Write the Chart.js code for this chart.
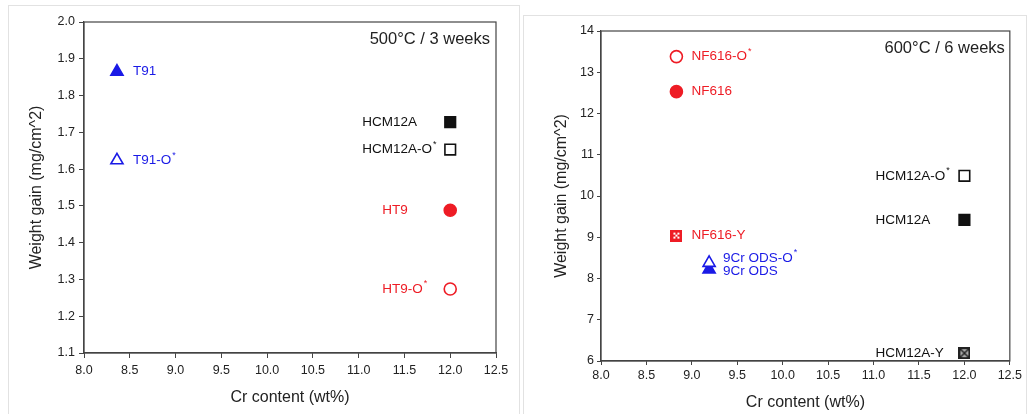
<!DOCTYPE html>
<html>
<head>
<meta charset="utf-8">
<script src="https://cdn.jsdelivr.net/npm/chart.js@4"></script>
<style>
  body { margin: 0; background: #fff; width: 1029px; height: 414px; overflow: hidden; position: relative; }
  .panel { position: absolute; border: 1px solid #e2e2e2; border-bottom: none; background: #fff; }
  #leftPanel { left: 8px; top: 5px; width: 510px; height: 420px; }
  #rightPanel { left: 523px; top: 15px; width: 502px; height: 420px; }
  canvas { position: absolute; }
  #leftChart { left: 8px; top: 5px; }
  #rightChart { left: 524px; top: 16px; }
</style>
</head>
<body>
<div class="panel" id="leftPanel"></div>
<div class="panel" id="rightPanel"></div>
<canvas id="leftChart" width="512" height="409"></canvas>
<canvas id="rightChart" width="501" height="398"></canvas>
<script>
// values
const crTicks = [8.0, 8.5, 9.0, 9.5, 10.0, 10.5, 11.0, 11.5, 12.0, 12.5];

const leftNames = ['T91', 'T91-O*', 'HCM12A', 'HCM12A-O*', 'HT9', 'HT9-O*'];
const leftCr = [8.36, 8.36, 12.0, 12.0, 12.0, 12.0];
const leftGain = [1.865, 1.624, 1.728, 1.653, 1.488, 1.274];
const leftGainTicks = [1.1, 1.2, 1.3, 1.4, 1.5, 1.6, 1.7, 1.8, 1.9, 2.0];

const rightNames = ['NF616-O*', 'NF616', 'NF616-Y', '9Cr ODS-O*', '9Cr ODS', 'HCM12A-O*', 'HCM12A', 'HCM12A-Y'];
const rightCr = [8.83, 8.83, 8.83, 9.19, 9.19, 12.0, 12.0, 12.0];
const rightGain = [13.38, 12.53, 9.04, 8.38, 8.22, 10.49, 9.42, 6.19];
const rightGainTicks = [6, 7, 8, 9, 10, 11, 12, 13, 14];

const BLUE = '#1a1ae6';
const RED = '#ee1c25';
const BLACK = '#111';
const AXIS = '#444';
const FONT = "'Liberation Sans', Arial, sans-serif";

function patternSquare(kind) {
    const c = document.createElement('canvas');
    c.width = 12; c.height = 12;
    const g = c.getContext('2d');
    if (kind === 'dots') {
        g.fillStyle = RED;
        g.fillRect(0, 0, 12, 12);
        g.fillStyle = '#fff';
        [[3, 3], [7, 3], [5, 5], [3, 7], [7, 7]].forEach(p => g.fillRect(p[0], p[1], 2, 2));
    } else {
        g.fillStyle = '#222';
        g.fillRect(0, 0, 12, 12);
        g.fillStyle = '#aaa';
        g.fillRect(2, 2, 8, 8);
        g.strokeStyle = '#222';
        g.lineWidth = 1.5;
        g.beginPath();
        g.moveTo(2, 2); g.lineTo(10, 10);
        g.moveTo(10, 2); g.lineTo(2, 10);
        g.stroke();
    }
    return c;
}

// marker look for each sample
const markerStyles = {
    'T91':        { color: BLUE, style: 'triangle', filled: true, r: 7, dx: 16, dy: 0 },
    'T91-O*':     { color: BLUE, style: 'triangle', filled: false, r: 7, dx: 16, dy: 0 },
    'HCM12A':     { color: BLACK, style: 'rect', filled: true, r: 7.5, dx: -88, dy: 0 },
    'HCM12A-O*':  { color: BLACK, style: 'rect', filled: false, r: 7.5, dx: -88, dy: 0 },
    'HT9':        { color: RED, style: 'circle', filled: true, r: 6, dx: -68, dy: 0 },
    'HT9-O*':     { color: RED, style: 'circle', filled: false, r: 6, dx: -68, dy: 0 },
    'NF616-O*':   { color: RED, style: 'circle', filled: false, r: 6, dx: 15, dy: 0 },
    'NF616':      { color: RED, style: 'circle', filled: true, r: 6, dx: 15, dy: 0 },
    'NF616-Y':    { color: RED, style: patternSquare('dots'), filled: true, r: 6, dx: 15, dy: 0 },
    '9Cr ODS-O*': { color: BLUE, style: 'triangle', filled: false, r: 7, dx: 14, dy: -5 },
    '9Cr ODS':    { color: BLUE, style: 'triangle', filled: true, r: 7, dx: 14, dy: 2 },
    'HCM12A-Y':   { color: BLACK, style: patternSquare('cross'), filled: true, r: 6, dx: -89, dy: 0 }
};

function buildDatasets(names, xs, ys, rightSide) {
    return names.map((name, i) => {
        let st = markerStyles[name];
        if (rightSide && name.startsWith('HCM12A') && name !== 'HCM12A-Y') {
            st = Object.assign({}, st, { dx: -89 });
        }
        return {
            label: name,
            data: [{ x: xs[i], y: ys[i] }],
            pointStyle: st.style,
            pointRadius: st.r,
            pointBorderWidth: 1.6,
            pointBorderColor: st.color,
            pointBackgroundColor: st.filled ? st.color : '#fff',
            labelColor: st.color,
            labelDx: st.dx,
            labelDy: st.dy
        };
    });
}

const pointLabels = {
    id: 'pointLabels',
    afterDatasetsDraw(chart) {
        const ctx = chart.ctx;
        ctx.save();
        ctx.textBaseline = 'middle';
        ctx.textAlign = 'left';
        chart.data.datasets.forEach((ds, i) => {
            const el = chart.getDatasetMeta(i).data[0];
            let x = el.x + ds.labelDx;
            const y = el.y + ds.labelDy;
            let text = ds.label;
            let sup = '';
            if (text.endsWith('*')) { text = text.slice(0, -1); sup = '*'; }
            ctx.fillStyle = ds.labelColor;
            ctx.font = '13.5px ' + FONT;
            ctx.fillText(text, x, y);
            if (sup) {
                x += ctx.measureText(text).width + 1;
                ctx.font = '9px ' + FONT;
                ctx.fillText(sup, x, y - 5);
            }
        });
        ctx.restore();
    }
};

const frameAndNote = {
    id: 'frameAndNote',
    afterDraw(chart, args, opts) {
        const { ctx, chartArea } = chart;
        ctx.save();
        ctx.strokeStyle = AXIS;
        ctx.lineWidth = 1.2;
        ctx.strokeRect(chartArea.left, chartArea.top, chartArea.right - chartArea.left, chartArea.bottom - chartArea.top);
        ctx.fillStyle = '#222';
        ctx.textBaseline = 'middle';
        ctx.textAlign = 'right';
        ctx.font = '16.5px ' + FONT;
        ctx.fillText(opts.note, chartArea.right - opts.noteDx, chartArea.top + 17);
        ctx.restore();
    }
};

function makeChart(canvas, datasets, yTicks, yMin, yMax, decimals, geo) {
    return new Chart(canvas, {
        type: 'scatter',
        data: { datasets: datasets },
        plugins: [pointLabels, frameAndNote],
        options: {
            responsive: false,
            animation: false,
            devicePixelRatio: 1,
            layout: { padding: { top: geo.top, right: geo.right, left: 0, bottom: 0 } },
            plugins: {
                legend: { display: false },
                tooltip: { enabled: false },
                frameAndNote: { note: geo.note, noteDx: geo.noteDx }
            },
            scales: {
                x: {
                    type: 'linear',
                    min: 8.0,
                    max: 12.5,
                    afterBuildTicks: s => { s.ticks = crTicks.map(v => ({ value: v })); },
                    afterFit: s => { s.height = geo.xHeight; },
                    grid: { display: true, drawOnChartArea: false, drawTicks: true, tickLength: geo.tick, color: AXIS },
                    border: { display: true, color: AXIS, width: 1.2 },
                    ticks: {
                        color: '#222',
                        padding: geo.xPad,
                        maxRotation: 0,
                        font: { family: FONT, size: 12.5 },
                        callback: v => Number(v).toFixed(1)
                    },
                    title: {
                        display: true,
                        text: 'Cr content (wt%)',
                        color: '#222',
                        font: { family: FONT, size: 16 },
                        padding: { top: 0, bottom: geo.xTitlePad }
                    }
                },
                y: {
                    type: 'linear',
                    min: yMin,
                    max: yMax,
                    afterBuildTicks: s => { s.ticks = yTicks.map(v => ({ value: v })); },
                    afterFit: s => { s.width = geo.yWidth; },
                    grid: { display: true, drawOnChartArea: false, drawTicks: true, tickLength: geo.tick, color: AXIS },
                    border: { display: true, color: AXIS, width: 1.2 },
                    ticks: {
                        color: '#222',
                        padding: geo.yPad,
                        font: { family: FONT, size: 12.5 },
                        callback: v => Number(v).toFixed(decimals)
                    },
                    title: {
                        display: true,
                        text: 'Weight gain (mg/cm^2)',
                        color: '#222',
                        font: { family: FONT, size: 16 },
                        padding: { top: geo.yTitlePad, bottom: 0 }
                    }
                }
            }
        }
    });
}

makeChart(document.getElementById('leftChart'),
    buildDatasets(leftNames, leftCr, leftGain, false),
    leftGainTicks, 1.1, 2.0, 1,
    { top: 17, right: 24, xHeight: 61, yWidth: 76, tick: 5, xPad: 5, yPad: 4,
      xTitlePad: 7, yTitlePad: 19, note: '500\u00B0C / 3 weeks', noteDx: 6 });

makeChart(document.getElementById('rightChart'),
    buildDatasets(rightNames, rightCr, rightGain, true),
    rightGainTicks, 6, 14, 0,
    { top: 15, right: 12, xHeight: 53, yWidth: 77, tick: 4, xPad: 3, yPad: 3,
      xTitlePad: 2, yTitlePad: 28, note: '600\u00B0C / 6 weeks', noteDx: 5 });
</script>
</body>
</html>
